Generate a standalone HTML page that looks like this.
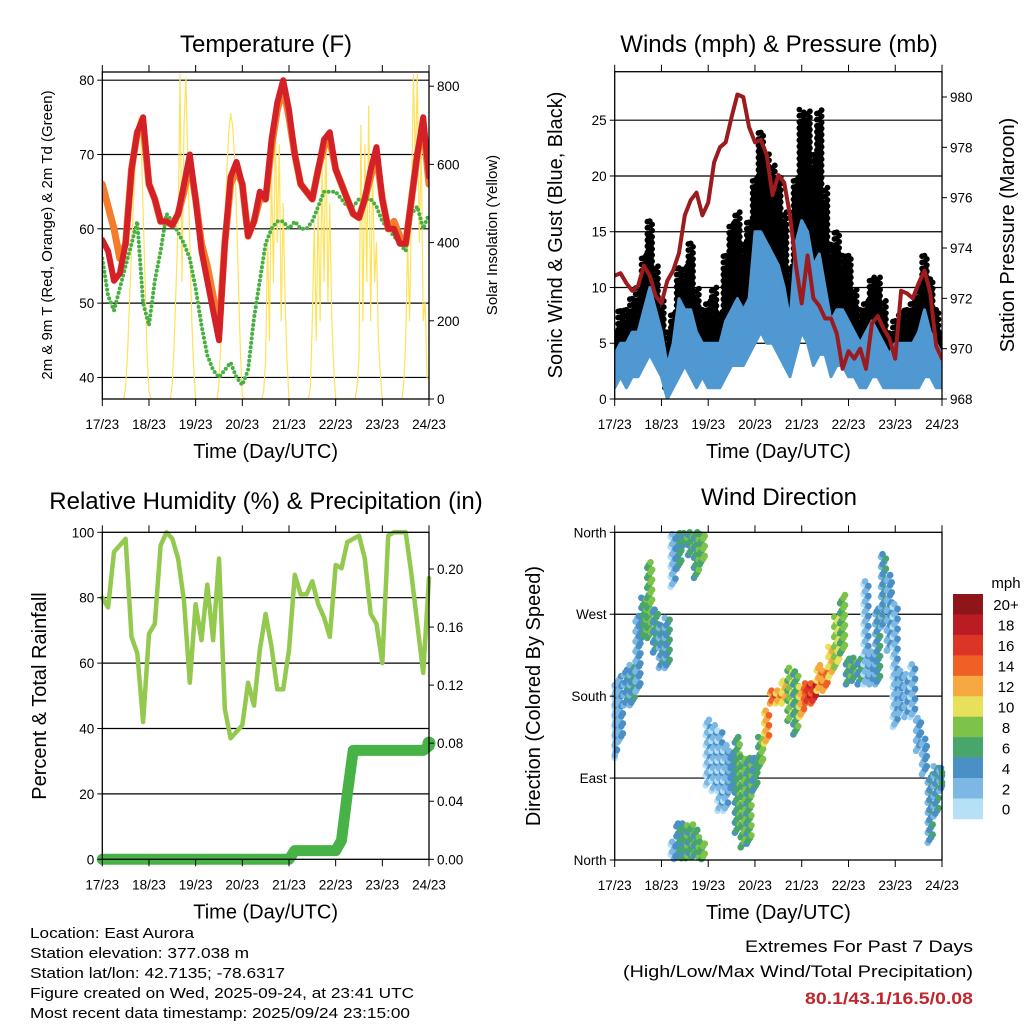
<!DOCTYPE html>
<html><head><meta charset="utf-8"><style>
html,body{margin:0;padding:0;background:#fff;}
svg{display:block;font-family:"Liberation Sans",Arial,sans-serif;}
</style></head><body>
<svg id="chart" width="1024" height="1024" viewBox="0 0 1024 1024" xmlns="http://www.w3.org/2000/svg">
<rect width="1024" height="1024" fill="#fff"/>
<g id="layer"></g>
</svg>
<script>
// ---------- Data (3-hour steps from 17/23 UTC) ----------
const hours = [0,3,6,9,12,15,18,21,24,27,30,33,36,39,42,45,48,51,54,57,60,63,66,69,72,75,78,81,84,87,90,93,96,99,102,105,108,111,114,117,120,123,126,129,132,135,138,141,144,147,150,153,156,159,162,165,168];
const dayLabels = ["17/23","18/23","19/23","20/23","21/23","22/23","23/23","24/23"];
const temp2m = [58.5,57,53,54,58,68,73,75,66,64,61,61,60.5,62,66,70,64,57,53,49,45,58,67,69,66,59,61,65,64,72,77,80,76,70,66,65,64,68,72,73,68,66,64,62,61.5,64,68,71,64,60,60,58,58,64,70,75,67];
const temp9m = [66,63,60,56,58,68,73,74,66,64,61,61,60.5,62,65,69,64,58,55,51,46,58,66,68,66,59,61,64,64,71,76,79,75,70,66,65,64,68,71,72,68,66,64,62,61.5,64,67,70,64,60,61,59,58,64,70,74,66];
const dewpt = [56,51,49,52,55,58,61,50,47,53,57,62,61,59.5,58,56,52,47,43,41,40,41,42,40,39,41,48,53,58,60,61,61,60,61,60,60,61,63,65,65,65,64,63,63,64,64,64,63,61,60,59,58,57,62,63,60,62];
// Solar insolation, hourly (W/m2) from 17/23 UTC
const solar = [0,0,0,0,0,0,0,0,0,0,0,0,30,120,250,380,500,600,700,720,650,480,300,120,20,
0,0,0,0,0,0,0,0,0,0,0,40,150,300,450,830,300,700,820,600,400,200,80,0,
0,0,0,0,0,0,0,0,0,0,0,40,150,300,450,580,680,730,700,620,480,300,120,10,
0,0,0,0,0,0,0,0,0,0,20,100,400,150,600,300,700,400,650,200,500,250,100,0,
0,0,0,0,0,0,0,0,0,0,30,200,450,150,500,200,600,300,680,250,500,200,80,0,
0,0,0,0,0,0,0,0,0,0,30,100,700,200,650,300,750,200,600,300,400,150,60,0,
0,0,0,0,0,0,0,0,0,0,40,150,400,200,500,830,600,830,400,650,200,250,50];
const pressure = [972.9,973.0,972.6,972.3,972.5,973.3,972.9,972.1,971.8,972.7,973.1,973.8,975.3,975.9,976.2,975.3,975.8,977.4,978.0,978.2,979.2,980.1,980.0,978.8,978.2,978.3,977.7,976.1,976.9,976.6,975.3,973.3,971.8,973.7,972.0,971.7,971.2,971.2,970.6,969.2,969.9,969.6,970.0,969.2,971.0,971.3,970.8,970.4,969.6,972.3,972.2,972.0,972.6,973.1,972.2,970.1,969.6];
const windLo = [1,2,1,2,2,3,4,3,2,0,1,2,3,2,1,2,1,1,1,2,3,3,3,4,5,6,5,5,4,3,2,4,6,5,3,4,4,2,3,3,2,2,1,1,2,2,1,1,1,1,1,1,1,2,2,1,1];
const windHi = [4,5,5,6,6,8,10,8,6,3,5,9,8,8,6,5,5,5,5,7,8,9,8,9,15,15,14,13,12,10,7,14,16,15,12,13,10,7,8,8,7,6,5,6,7,6,5,4,5,5,5,5,6,8,6,5,4];
const gustLo = [2,4,3,4,5,6,6,5,3,1,2,4,5,4,3,3,3,2,2,4,5,6,5,7,8,9,9,8,8,6,5,8,10,9,7,8,6,5,5,4,4,4,3,3,4,4,3,2,2,2,3,3,3,4,3,3,2];
const gustHi = [6,8,8,9,10,13,16,12,9,6,8,12,12,14,10,8,9,10,8,13,16,17,14,16,20,24,22,21,20,17,12,20,26,26,22,26,19,14,15,13,13,10,8,9,11,11,9,6,7,8,8,9,10,13,11,8,6];
const dirLo = [112,130,170,170,185,244,244,228,211,211,300,320,345,335,310,325,82,76,54,54,76,30,14,18,76,102,128,172,172,172,153,138,157,172,172,186,186,201,212,227,193,197,193,193,193,193,256,230,146,161,157,157,120,94,19,48,76];
const dirHi = [192,203,211,214,269,288,327,277,258,266,380,400,400,400,395,380,156,150,142,128,120,135,113,113,113,135,164,186,186,197,212,208,190,194,194,216,208,234,267,292,223,223,223,307,230,277,336,314,281,208,204,216,157,135,94,105,102];
const dirSpeed = [2,3,4,4,3,6,7,5,4,4,2,5,6,6,6,7,2,2,2,2,4,6,7,6,5,7,12,14,12,11,8,6,12,16,16,12,13,11,9,7,6,6,5,2,3,4,4,3,2,3,3,2,3,3,4,4,4];
const rh = [80,77,94,96,98,68,63,42,69,72,96,100,98,92,79,54,78,67,84,67,92,46,37,39,41,54,47,64,75,65,52,52,64,87,81,81,85,78,74,68,90,89,97,98,99,92,75,72,60,99,100,100,100,87,72,57,86];
const precip = [0,0,0,0,0,0,0,0,0,0,0,0,0,0,0,0,0,0,0,0,0,0,0,0,0,0,0,0,0,0,0,0,0,0.006,0.006,0.006,0.006,0.006,0.006,0.006,0.006,0.013,0.045,0.075,0.075,0.075,0.075,0.075,0.075,0.075,0.075,0.075,0.075,0.075,0.075,0.075,0.078];
const speedBins = ["0","2","4","6","8","10","12","14","16","18","20+"];
const binColors = ["#b5e0f5","#7cb8e3","#4a90c7","#48a56c","#7dc34a","#e6e05a","#f6a941","#ef6027","#dc3528","#bb1b23","#8e1518"];

// ---------- Helpers ----------
const NS="http://www.w3.org/2000/svg";
const layer=document.getElementById('layer');
function mk(tag,attrs,parent){const e=document.createElementNS(NS,tag);for(const k in attrs)e.setAttribute(k,attrs[k]);(parent||layer).appendChild(e);return e;}
function txt(s,x,y,size,anchor,parent,extra){const t=mk('text',Object.assign({x:x,y:y,'font-size':size,'text-anchor':anchor||'middle',fill:'#000'},extra||{}),parent);t.textContent=s;return t;}
function lin(a0,a1,b0,b1){return v=>b0+(v-a0)*(b1-b0)/(a1-a0);}

function panel(name,x0,x1,yt,yb){
  const g=mk('g',{});
  
  
  const xs=lin(0,168,x0,x1);
  return {g,x0,x1,yt,yb,xs};
}
function frame(p){
  mk('rect',{x:p.x0,y:p.yt,width:p.x1-p.x0,height:p.yb-p.yt,fill:'none',stroke:'#000','stroke-width':1.3},p.g);
  const gx=mk('g',{},p.g);
  
  
  for(let d=0;d<=7;d++){const x=p.xs(d*24);
    mk('line',{x1:x,x2:x,y1:p.yb,y2:p.yb+7,stroke:'#000','stroke-width':1},gx);
    mk('line',{x1:x,x2:x,y1:p.yt,y2:p.yt-7,stroke:'#000','stroke-width':1},gx);
    const t=txt(dayLabels[d],x,p.yb+30,13.5,'middle',gx);
    
    
  }
  const tt=txt("Time (Day/UTC)",(p.x0+p.x1)/2,p.yb+59,20,'middle',p.g);
  
  
}
function gridY(p,y){mk('line',{x1:p.x0,x2:p.x1,y1:y,y2:y,stroke:'#000','stroke-width':1.2},p.g);}
function leftLabel(p,s,y){mk('line',{x1:p.x0-5,x2:p.x0,y1:y,y2:y,stroke:'#000'},p.g);const t=txt(s,p.x0-8,y+5,13.5,'end',p.g);}
function rightLabel(p,s,y){mk('line',{x1:p.x1,x2:p.x1+5,y1:y,y2:y,stroke:'#000'},p.g);const t=txt(s,p.x1+8,y+5,13.5,'start',p.g);}
function vtitle(p,s,x,y,size,name){const t=txt(s,x,y,size,'middle',p.g,{transform:`rotate(-90 ${x} ${y})`});return t;}
function title(s,x,y,name){const t=txt(s,x,y,24,'middle');}
function poly(p,xsArr,ysArr,attrs,name){const pts=xsArr.map((x,i)=>x.toFixed(1)+','+ysArr[i].toFixed(1)).join(' ');const e=mk('polyline',Object.assign({points:pts,fill:'none','stroke-linejoin':'round','stroke-linecap':'round'},attrs),p.g);return e;}

// ---------- Panel 1: Temperature ----------
(function(){
  const p=panel('temperature-panel',102.3,429,72,399);
  const yT=lin(37.1,81.1,399,72);
  const yS=lin(0,800,399,86.2);
  const clip=mk('clipPath',{id:'c1'},p.g);mk('rect',{x:p.x0,y:p.yt,width:p.x1-p.x0,height:p.yb-p.yt},clip);
  [40,50,60,70,80].forEach(v=>gridY(p,yT(v)));
  const inner=mk('g',{'clip-path':'url(#c1)'},p.g);
  const q={g:inner,xs:p.xs,x0:p.x0,x1:p.x1};
  poly(q,solar.map((v,i)=>p.xs(i)),solar.map(v=>yS(v)),{stroke:'#fde25a','stroke-width':1.2},'solar-line');
  poly(q,hours.map(p.xs),dewpt.map(yT),{stroke:'#48b040','stroke-width':4,'stroke-dasharray':'0 4.5'},'dewpoint-line');
  poly(q,hours.map(p.xs),temp9m.map(yT),{stroke:'#f47c2a','stroke-width':7},'temp-9m-line');
  poly(q,hours.map(p.xs),temp2m.map(yT),{stroke:'#d42027','stroke-width':6},'temp-2m-line');
  frame(p);
  [40,50,60,70,80].forEach(v=>leftLabel(p,String(v),yT(v)));
  [0,200,400,600,800].forEach(v=>rightLabel(p,String(v),yS(v)));
  vtitle(p,"2m & 9m T (Red, Orange) & 2m Td (Green)",52,235,15,'y-axis-title');
  vtitle(p,"Solar Insolation (Yellow)",497,235,15,'y2-axis-title');
  title("Temperature (F)",266,52,'temperature-title');
})();

// ---------- Panel 2: Winds & Pressure ----------
(function(){
  const p=panel('winds-panel',614.7,942,71.7,399);
  const yW=lin(0,29.35,399,71.7);
  const yP=lin(968,980,399,97);
  [5,10,15,20,25].forEach(v=>gridY(p,yW(v)));
  const clip=mk('clipPath',{id:'c2'},p.g);mk('rect',{x:p.x0,y:p.yt,width:p.x1-p.x0,height:p.yb-p.yt},clip);
  const inner=mk('g',{'clip-path':'url(#c2)'},p.g);
  const xsArr=hours.map(p.xs);
  const gd=mk('g',{fill:'#000'},inner);
  
  
  hours.forEach((h,i)=>{
    [-1.2,-0.6,0,0.6,1.2].forEach((o,k)=>{
      const top=gustHi[i]-(k%2)*1.2;
      for(let v=gustLo[i]+(k%3)*0.3;v<=top;v+=0.55){
        mk('circle',{cx:p.xs(Math.max(0,Math.min(168,h+o))),cy:yW(v),r:2.9},gd);
      }
    });
  });
  const bpts=xsArr.map((x,i)=>x.toFixed(1)+','+yW(windHi[i]).toFixed(1)).concat(xsArr.map((x,i)=>x.toFixed(1)+','+yW(windLo[i]).toFixed(1)).reverse()).join(' ');
  const bb=mk('polygon',{points:bpts,fill:'#4f98d1',stroke:'#4f98d1','stroke-width':3,'stroke-linejoin':'round'},inner);
  
  
  poly({g:inner},xsArr,pressure.map(yP),{stroke:'#9b1b1f','stroke-width':4},'pressure-line');
  frame(p);
  [0,5,10,15,20,25].forEach(v=>leftLabel(p,String(v),yW(v)));
  [968,970,972,974,976,978,980].forEach(v=>rightLabel(p,String(v),yP(v)));
  vtitle(p,"Sonic Wind & Gust (Blue, Black)",562,235,20,'y-axis-title');
  vtitle(p,"Station Pressure (Maroon)",1014,235,20,'y2-axis-title');
  title("Winds (mph) & Pressure (mb)",779,52,'winds-title');
})();

// ---------- Panel 3: RH & Precip ----------
(function(){
  const p=panel('humidity-panel',102.3,429,532.3,859.3);
  const yR=lin(0,100,859.3,532.3);
  const yQ=lin(0,0.2,859.3,569);
  [20,40,60,80].forEach(v=>gridY(p,yR(v)));
  const xsArr=hours.map(p.xs);
  poly(p,xsArr,rh.map(yR),{stroke:'#92c94e','stroke-width':4.5},'rh-line');
  poly(p,xsArr,precip.map(yQ),{stroke:'#47b347','stroke-width':11},'precip-line');
  const end=mk('circle',{cx:xsArr[xsArr.length-1],cy:yQ(precip[precip.length-1])-3,r:6.5,fill:'#47b347'},p.g);
  
  
  frame(p);
  [0,20,40,60,80,100].forEach(v=>leftLabel(p,String(v),yR(v)));
  ["0.00","0.04","0.08","0.12","0.16","0.20"].forEach((s,i)=>rightLabel(p,s,yQ(i*0.04)));
  vtitle(p,"Percent & Total Rainfall",46,696,20,'y-axis-title');
  title("Relative Humidity (%) & Precipitation (in)",266,509,'humidity-title');
})();

// ---------- Panel 4: Wind Direction ----------
(function(){
  const p=panel('wind-direction-panel',614.7,942,532.3,860);
  const yD=lin(0,360,860,532.3);
  [90,180,270].forEach(v=>gridY(p,yD(v)));
  function col(s){let b=Math.round(s/2);if(b<0)b=0;if(b>10)b=10;return binColors[b];}
  const dots=mk('g',{},p.g);
  
  
  hours.forEach((h,i)=>{
    [-1.3,-0.5,0.4,1.2].forEach((o,k)=>{
      for(let d=dirLo[i]+k*3;d<=dirHi[i];d+=11){
        const dd=d>360?d-360:d;
        mk('circle',{cx:p.xs(Math.max(0,Math.min(168,h+o))),cy:yD(dd),r:3.3,fill:col(dirSpeed[i]+(k-1.5)*0.7)},dots);
      }
    });
  });
  frame(p);
  ["North","East","South","West","North"].forEach((s,i)=>leftLabel(p,s,yD(i*90)));
  vtitle(p,"Direction (Colored By Speed)",540,696,20,'y-axis-title');
  title("Wind Direction",779,505,'wind-direction-title');
  const cb=mk('g',{});
  
  
  const top=594,bh=20.45;
  for(let j=0;j<11;j++){const idx=10-j;
    mk('rect',{x:953,y:top+j*bh,width:30,height:bh+0.3,fill:binColors[idx]},cb);
    const t=txt(speedBins[idx],1006,top+j*bh+bh/2+6,15,'middle',cb);
    
    
  }
  txt("mph",1006,588,15,'middle',cb);
})();

// ---------- Footer ----------
(function(){
  const f=mk('g',{});
  
  
  const lines=[["Location: East Aurora",164],["Station elevation: 377.038 m",219],["Station lat/lon: 42.7135; -78.6317",255],["Figure created on Wed, 2025-09-24, at 23:41 UTC",384],["Most recent data timestamp: 2025/09/24 23:15:00",380]];
  lines.forEach((l,i)=>{txt(l[0],30,938+i*20,15,'start',f,{textLength:l[1],lengthAdjust:'spacingAndGlyphs'});});
  const e=mk('g',{});
  
  
  txt("Extremes For Past 7 Days",973,952,17,'end',e,{textLength:228,lengthAdjust:'spacingAndGlyphs'});
  txt("(High/Low/Max Wind/Total Precipitation)",973,977,17,'end',e,{textLength:350,lengthAdjust:'spacingAndGlyphs'});
  txt("80.1/43.1/16.5/0.08",973,1004,17,'end',e,{fill:'#c0272d','font-weight':'bold',textLength:168,lengthAdjust:'spacingAndGlyphs'});
})();
</script>
</body></html>
